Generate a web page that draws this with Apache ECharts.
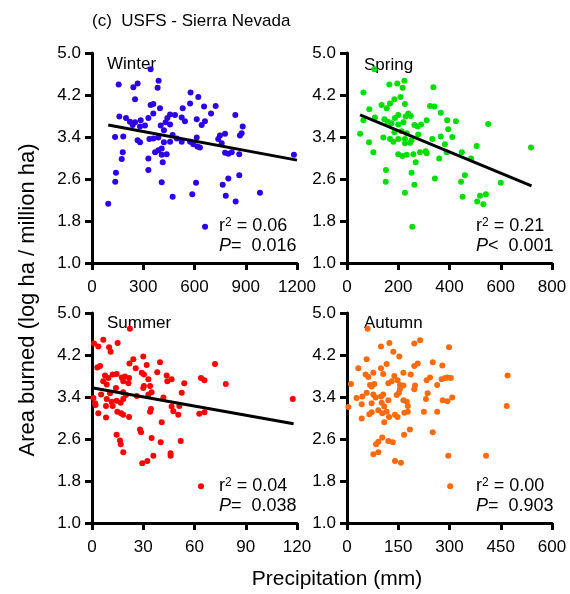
<!DOCTYPE html>
<html>
<head>
<meta charset="utf-8">
<script src="https://cdn.jsdelivr.net/npm/echarts@6/dist/echarts.min.js"></script>
<style>
html,body{margin:0;padding:0;background:#fff;}
#chart{width:570px;height:594px;}
</style>
</head>
<body>
<div id="chart"></div>
<script>
// ---------- DATA ----------
const panelNames = ['Winter', 'Spring', 'Summer', 'Autumn'];
const xTicks = { Winter: [0, 1200, 300], Spring: [0, 800, 200], Summer: [0, 120, 30], Autumn: [0, 600, 150] };
const yTickLabels = ['1.0', '1.8', '2.6', '3.4', '4.2', '5.0'];

const winterPrecip = [343,156,242,267,390,384,252,577,622,574,343,359,398,531,656,724,697,839,160,199,222,252,285,238,281,310,330,359,457,486,441,431,457,525,544,613,661,642,402,421,882,135,183,267,281,336,359,388,472,496,457,421,525,613,574,593,617,632,749,779,739,759,866,876,180,174,330,369,388,408,408,437,414,779,798,818,862,1182,140,136,330,408,609,798,765,862,95,472,587,783,841,983,662];
const winterArea = [4.69,4.40,4.35,4.42,4.47,4.34,4.12,4.25,4.16,4.04,4.01,4.03,3.95,3.95,3.98,3.99,3.85,3.82,3.79,3.76,3.69,3.68,3.72,3.63,3.60,3.62,3.76,3.85,3.83,3.82,3.76,3.68,3.64,3.77,3.70,3.74,3.70,3.63,3.62,3.53,3.60,3.40,3.41,3.34,3.30,3.36,3.37,3.39,3.44,3.37,3.31,3.30,3.31,3.39,3.31,3.26,3.22,3.20,3.43,3.46,3.36,3.28,3.43,3.47,3.11,2.98,2.99,3.11,3.15,3.18,3.06,3.07,2.92,3.10,3.08,3.11,3.07,3.06,2.72,2.55,2.77,2.54,2.53,2.61,2.49,2.67,2.13,2.26,2.31,2.28,2.17,2.34,1.69];

const springPrecip = [107,165,196,224,217,64,337,185,209,168,135,155,226,87,324,341,366,200,239,249,229,187,109,64,146,159,174,200,220,311,263,276,289,391,425,551,395,51,185,213,233,278,142,168,200,226,252,333,366,411,86,181,226,246,382,506,718,103,200,216,233,259,285,307,311,360,389,448,484,268,152,151,252,263,343,226,445,460,600,451,519,542,508,532,255];
const springArea = [4.69,4.40,4.42,4.47,4.34,4.25,4.35,4.12,4.16,4.04,4.01,3.95,4.03,3.93,3.99,3.98,3.86,3.82,3.85,3.80,3.79,3.76,3.77,3.72,3.74,3.69,3.66,3.64,3.68,3.72,3.63,3.60,3.64,3.72,3.70,3.65,3.55,3.46,3.49,3.51,3.47,3.45,3.39,3.36,3.36,3.36,3.34,3.36,3.41,3.40,3.30,3.31,3.28,3.29,3.26,3.23,3.20,3.11,3.07,3.04,3.06,3.07,3.11,3.13,3.09,2.99,3.11,3.11,2.99,2.92,2.77,2.55,2.72,2.49,2.61,2.34,2.55,2.67,2.53,2.26,2.28,2.31,2.17,2.12,1.69];

const summerPrecip = [22.2,6.6,3.7,10.0,10.9,15.0,1.2,24.2,30.0,21.9,25.6,32.0,39.8,3.1,4.7,72.0,29.1,30.4,38.2,7.6,12.1,14.4,9.6,6.6,17.4,19.3,21.7,18.3,21.3,33.0,43.7,46.6,44.1,63.8,65.8,54.0,78.3,8.6,30.4,34.0,30.0,14.0,5.3,0.8,10.5,18.3,19.9,26.2,33.0,34.9,41.8,52.5,8.6,11.5,14.4,16.8,18.3,1.8,2.1,8.2,12.1,117.5,46.6,47.6,51.1,3.7,14.8,17.0,18.3,34.0,34.5,21.7,50.5,62.8,65.8,8.2,40.8,14.4,16.4,16.8,18.3,28.1,28.7,34.9,40.2,51.9,35.9,32.4,29.4,46.0,46.0,63.8];
const summerArea = [4.70,4.49,4.36,4.35,4.26,4.43,4.42,4.12,4.17,4.04,3.95,4.01,4.06,3.96,3.99,4.03,3.86,3.83,3.87,3.81,3.83,3.84,3.76,3.70,3.77,3.79,3.76,3.70,3.66,3.74,3.81,3.74,3.70,3.76,3.72,3.66,3.65,3.64,3.61,3.61,3.57,3.57,3.45,3.38,3.47,3.49,3.44,3.42,3.45,3.49,3.39,3.48,3.36,3.31,3.33,3.29,3.36,3.28,3.25,3.23,3.23,3.36,3.22,3.13,3.23,3.09,3.12,3.09,3.06,3.12,3.17,3.02,3.06,3.08,3.11,3.01,2.92,2.68,2.57,2.50,2.35,2.78,2.73,2.62,2.54,2.56,2.28,2.18,2.14,2.33,2.28,1.70];

const autumnPrecip = [60.5,99.5,124,135.5,153,197,214,298.6,57.6,33,99.5,116,77,54.6,62.4,106,197,207,251,279,165,186.5,138.5,11.7,67.3,80,72.3,121,131,148,155,165,155,199,197,233,243,264,277,287,294,304,470,4,28,45,57.6,77,84,99.5,106,145.5,152,121,43,72.3,101.5,109,165,175,178,231,236,280,294,308,467.5,72.3,65.3,91.6,103,116,123,140.5,148,168,178,225,264,43,109,184,167,251,103,91.6,85,121,134,77,91.6,140.5,158,296.5,407,302];
const autumnArea = [4.70,4.36,4.43,4.26,4.17,4.42,4.48,4.35,4.12,3.95,3.95,4.03,3.86,3.83,3.78,3.84,3.99,4.04,4.06,4.00,3.86,3.83,3.80,3.65,3.63,3.65,3.60,3.66,3.70,3.72,3.63,3.62,3.55,3.62,3.55,3.72,3.77,3.63,3.74,3.76,3.77,3.76,3.81,3.21,3.38,3.41,3.48,3.45,3.39,3.41,3.45,3.44,3.48,3.34,3.26,3.28,3.29,3.22,3.34,3.31,3.23,3.36,3.47,3.34,3.32,3.39,3.23,3.11,3.07,3.15,3.09,3.12,3.02,3.06,3.02,3.10,3.12,3.12,3.12,2.99,2.92,2.78,2.68,2.73,2.63,2.55,2.50,2.56,2.54,2.31,2.35,2.18,2.15,2.28,2.28,1.70];

// regression line end points [precip, area]
const winterFit = [[95, 3.63], [1200, 2.96]];
const springFit = [[51, 3.82], [720, 2.47]];
const summerFit = [[0.8, 3.57], [118, 2.89]];

const statsR2 = ['0.06', '0.21', '0.04', '0.00'];
const statsP = ['=  0.016', '<  0.001', '=  0.038', '=  0.903'];

const colors = ['#2D00E8', '#00DD00', '#FF0000', '#FF6A0A'];

// ---------- BUILD ----------
const FONT = '"Liberation Sans", Arial, Helvetica, sans-serif';
const grids = [
  { left: 92, top: 53, width: 205, height: 210 },
  { left: 347, top: 53, width: 205, height: 210 },
  { left: 92, top: 313, width: 205, height: 210 },
  { left: 347, top: 313, width: 205, height: 210 }
];
const axisLine = { show: true, lineStyle: { color: '#000', width: 3 } };
const axisTick = { show: true, length: 7, lineStyle: { color: '#000', width: 3 } };

const xAxes = panelNames.map((n, i) => ({
  type: 'value', gridIndex: i,
  min: xTicks[n][0], max: xTicks[n][1], interval: xTicks[n][2],
  axisLine, axisTick, splitLine: { show: false },
  axisLabel: { color: '#000', fontSize: 17, fontFamily: FONT, margin: 16, formatter: v => String(v),
    showMinLabel: true, showMaxLabel: true }
}));
const yAxes = panelNames.map((n, i) => ({
  type: 'value', gridIndex: i,
  min: 1, max: 5, interval: 0.8,
  axisLine, axisTick, splitLine: { show: false },
  axisLabel: { color: '#000', fontSize: 17, fontFamily: FONT, margin: 11,
    formatter: v => (Math.round(v * 10) / 10).toFixed(1), showMinLabel: true, showMaxLabel: true }
}));

const pairs = (xs, ys) => xs.map((x, k) => [x, ys[k]]);
const scatterData = [
  pairs(winterPrecip, winterArea),
  pairs(springPrecip, springArea),
  pairs(summerPrecip, summerArea),
  pairs(autumnPrecip, autumnArea)
];
const series = scatterData.map((d, i) => ({
  type: 'scatter', xAxisIndex: i, yAxisIndex: i, data: d,
  symbol: 'circle', symbolSize: 6, itemStyle: { color: colors[i], opacity: 1 }, z: 2
}));
[winterFit, springFit, summerFit].forEach((f, i) => {
  series.push({
    type: 'line', xAxisIndex: i, yAxisIndex: i, data: f, symbol: 'none',
    lineStyle: { color: '#000', width: 3 }, z: 3, silent: true
  });
});

const labelPos = [[107, 64], [364, 65], [107, 323], [364, 323]];
const statPos = [[219, 226], [476, 226], [219, 486], [476, 486]];
const graphic = [];
graphic.push({ type: 'text', left: 92, top: 13, style: { text: '(c)  USFS - Sierra Nevada', font: '17px ' + FONT, fill: '#000' } });
panelNames.forEach((n, i) => {
  graphic.push({ type: 'text', x: labelPos[i][0], y: labelPos[i][1],
    style: { text: n, font: '17px ' + FONT, fill: '#000', verticalAlign: 'middle', align: 'left' } });
  graphic.push({ type: 'text', x: statPos[i][0], y: statPos[i][1],
    style: { text: '{a|r}{s|2}{a| = ' + statsR2[i] + '}', font: '18px ' + FONT, fill: '#000', verticalAlign: 'middle', align: 'left',
      rich: { a: { fontSize: 18, fontFamily: FONT, color: '#000' }, s: { fontSize: 12, fontFamily: FONT, color: '#000', verticalAlign: 'top', padding: [0, 0, 7, 0] } } } });
  graphic.push({ type: 'text', x: statPos[i][0], y: statPos[i][1] + 20,
    style: { text: '{i|P}{a|' + statsP[i] + '}', font: '18px ' + FONT, fill: '#000', verticalAlign: 'middle', align: 'left',
      rich: { i: { fontSize: 18, fontFamily: FONT, fontStyle: 'italic', color: '#000' }, a: { fontSize: 18, fontFamily: FONT, color: '#000' } } } });
});
graphic.push({ type: 'text', x: 337, y: 579, style: { text: 'Precipitation (mm)', font: '21px ' + FONT, fill: '#000', align: 'center', verticalAlign: 'middle' } });
graphic.push({ type: 'text', x: 28, y: 300, rotation: Math.PI / 2, style: { text: 'Area burned (log ha / million ha)', font: '22px ' + FONT, fill: '#000', align: 'center', verticalAlign: 'middle' } });

const chart = echarts.init(document.getElementById('chart'), null, { renderer: 'canvas' });
chart.setOption({
  backgroundColor: '#fff',
  animation: false,
  grid: grids,
  xAxis: xAxes,
  yAxis: yAxes,
  series,
  graphic
});
</script>
</body>
</html>
